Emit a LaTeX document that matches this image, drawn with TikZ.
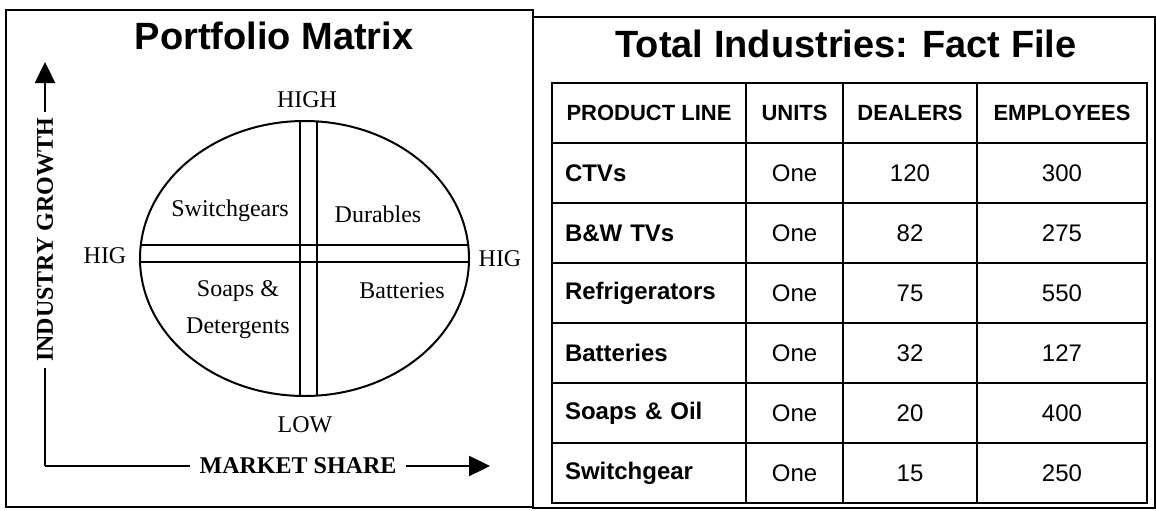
\documentclass[tikz,border=0pt]{standalone}
\usepackage{fontspec}
\setmainfont{Liberation Serif}
\newfontfamily\arialfont{Liberation Sans}
\usetikzlibrary{arrows.meta}

\begin{document}
\begin{tikzpicture}[
    x=1pt, y=-1pt,
    frame/.style={draw=black, line width=1.4pt},
    axis/.style={line width=2.4pt, -{Triangle[length=21pt, width=20pt]}},
    axislabel/.style={font=\fontsize{24}{26}\selectfont\bfseries, fill=white, inner ysep=2pt},
    quad/.style={font=\fontsize{24}{37}\selectfont, align=center},
    level/.style={font=\fontsize{24}{26}\selectfont},
    title/.style={font=\arialfont\bfseries\fontsize{38}{40}\selectfont},
    headcell/.style={draw, line width=1.4pt, minimum height=60pt, inner sep=0pt, font=\arialfont\bfseries\fontsize{22}{24}\selectfont},
    prodcell/.style={draw, line width=1.4pt, minimum height=60pt, text width=168pt, inner xsep=13pt, inner ysep=0pt, align=left, font=\arialfont\bfseries\fontsize{24}{26}\selectfont},
    numcell/.style={draw, line width=1.4pt, minimum height=60pt, inner sep=0pt, font=\arialfont\fontsize{24}{26}\selectfont},
    linecol/.style={minimum width=194pt},
    unitscol/.style={minimum width=97pt},
    dealerscol/.style={minimum width=134pt},
    staffcol/.style={minimum width=170pt}
]
    \useasboundingbox (0,0) rectangle (1156,511);

    % panels
    \draw[frame] (6,10) rectangle (533,507);
    \draw[frame] (533,17) rectangle (1155,508);

    % Portfolio Matrix
    \node[title] (lefttitle) at (274,36) {Portfolio Matrix};

    \coordinate (origin) at (45,466);
    \coordinate (ytip) at (45,62);
    \coordinate (xtip) at (490,466);
    \draw[axis] (origin) -- (ytip);
    \draw[axis] (origin) -- (xtip);
    \draw[line width=2.4pt] (origin) -- ++(0,-2);
    \node[axislabel, rotate=90, inner xsep=6pt] (growth) at (45,240) {INDUSTRY GROWTH};
    \node[axislabel, inner xsep=10pt] (share) at (298,466) {MARKET SHARE};

    \coordinate (centre) at (304.5,258.5);
    \draw[line width=2pt] (centre) ellipse [x radius=164.5pt, y radius=137.5pt];
    \begin{scope}
        \clip (centre) ellipse [x radius=164.5pt, y radius=137.5pt];
        \draw[line width=2pt] (300,100) -- (300,420);
        \draw[line width=2pt] (317,100) -- (317,420);
        \draw[line width=2pt] (120,245) -- (490,245);
        \draw[line width=2pt] (120,262) -- (490,262);
    \end{scope}

    \node[level] (high) at (307,100) {HIGH};
    \node[level] (low) at (305,425) {LOW};
    \node[level] (higleft) at (105,256) {HIG};
    \node[level] (higright) at (500,259) {HIG};

    \node[quad] (switchgears) at (230,211) {Switchgears};
    \node[quad] (durables) at (378,214) {Durables};
    \node[quad] (soaps) at (238,310) {Soaps \&\\Detergents};
    \node[quad] (batteries) at (402,291) {Batteries};

    % Fact File
    \node[title] (righttitle) at (846,44) {Total Industries: Fact File};

    % header
    \node[headcell, linecol] (h1) at (649,113) {PRODUCT LINE};
    \node[headcell, unitscol] (h2) at (794.5,113) {UNITS};
    \node[headcell, dealerscol] (h3) at (910,113) {DEALERS};
    \node[headcell, staffcol] (h4) at (1062,113) {EMPLOYEES};

    % CTVs
    \node[prodcell] (r1) at (649,173) {CTVs};
    \node[numcell, unitscol] (u1) at (794.5,173) {One};
    \node[numcell, dealerscol] (d1) at (910,173) {120};
    \node[numcell, staffcol] (e1) at (1062,173) {300};

    % B&W TVs
    \node[prodcell] (r2) at (649,233) {B\&W TVs};
    \node[numcell, unitscol] (u2) at (794.5,233) {One};
    \node[numcell, dealerscol] (d2) at (910,233) {82};
    \node[numcell, staffcol] (e2) at (1062,233) {275};

    % Refrigerators
    \node[prodcell] (r3) at (649,293) {Refrigerators};
    \node[numcell, unitscol] (u3) at (794.5,293) {One};
    \node[numcell, dealerscol] (d3) at (910,293) {75};
    \node[numcell, staffcol] (e3) at (1062,293) {550};

    % Batteries
    \node[prodcell] (r4) at (649,353) {Batteries};
    \node[numcell, unitscol] (u4) at (794.5,353) {One};
    \node[numcell, dealerscol] (d4) at (910,353) {32};
    \node[numcell, staffcol] (e4) at (1062,353) {127};

    % Soaps & Oil
    \node[prodcell] (r5) at (649,413) {Soaps \& Oil};
    \node[numcell, unitscol] (u5) at (794.5,413) {One};
    \node[numcell, dealerscol] (d5) at (910,413) {20};
    \node[numcell, staffcol] (e5) at (1062,413) {400};

    % Switchgear
    \node[prodcell] (r6) at (649,473) {Switchgear};
    \node[numcell, unitscol] (u6) at (794.5,473) {One};
    \node[numcell, dealerscol] (d6) at (910,473) {15};
    \node[numcell, staffcol] (e6) at (1062,473) {250};
\end{tikzpicture}
\end{document}
